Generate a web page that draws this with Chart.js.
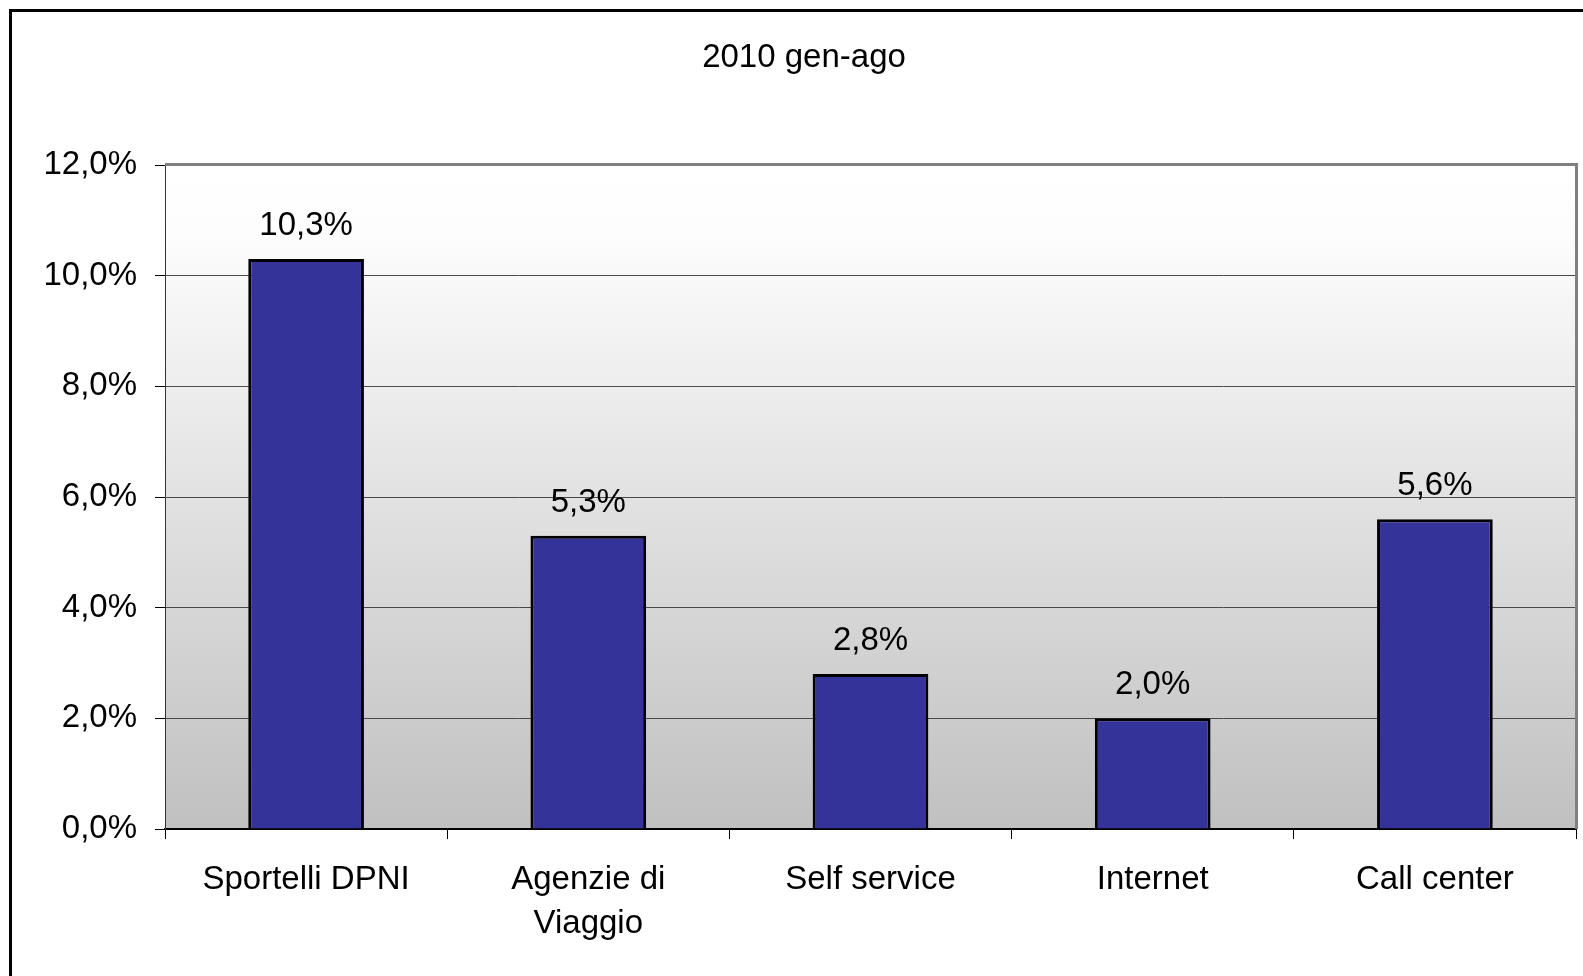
<!DOCTYPE html>
<html>
<head>
<meta charset="utf-8">
<script src="https://cdn.jsdelivr.net/npm/chart.js@4/dist/chart.umd.min.js"></script>
<style>
  html, body { margin: 0; padding: 0; background: #ffffff; overflow: hidden; }
  #wrap { position: relative; width: 1583px; height: 976px; }
  #frame { position: absolute; left: 9px; top: 9px; width: 1700px; height: 1100px;
           border-left: 3px solid #000; border-top: 3px solid #000; pointer-events: none; }
  canvas { position: absolute; left: 0; top: 0; }
</style>
</head>
<body>
<div id="wrap">
  <canvas id="c" width="1583" height="976"></canvas>
  <div id="frame"></div>
</div>
<script>
const chartTitle = '2010 gen-ago';
const categories = ['Sportelli DPNI', ['Agenzie di', 'Viaggio'], 'Self service', 'Internet', 'Call center'];
const values = [10.3, 5.3, 2.8, 2.0, 5.6];
const yTicks = [0, 2, 4, 6, 8, 10, 12];

const FONT = '"Liberation Sans", Arial, sans-serif';
const fmt = v => v.toFixed(1).replace('.', ',') + '%';

const bgPlugin = {
  id: 'bgPlugin',
  beforeDraw(chart) {
    const { ctx, chartArea: a } = chart;
    const g = ctx.createLinearGradient(0, a.top, 0, a.bottom);
    g.addColorStop(0, '#ffffff');
    g.addColorStop(0.1, '#fdfdfd');
    g.addColorStop(1, '#c0c0c0');
    ctx.save();
    ctx.fillStyle = g;
    ctx.fillRect(a.left, a.top, a.right - a.left, a.bottom - a.top);
    ctx.restore();
  },
  afterDraw(chart) {
    const { ctx, chartArea: a } = chart;
    ctx.save();
    ctx.fillStyle = '#000';
    ctx.font = '33px ' + FONT;
    ctx.textAlign = 'center';
    ctx.textBaseline = 'alphabetic';
    ctx.fillText(chartTitle, 804, 67);
    ctx.strokeStyle = '#808080';
    ctx.lineWidth = 3;
    ctx.beginPath();
    ctx.moveTo(a.left, a.top - 0.5);
    ctx.lineTo(a.right + 0.5, a.top - 0.5);
    ctx.lineTo(a.right + 0.5, a.bottom);
    ctx.stroke();
    ctx.restore();
  },
  afterDatasetsDraw(chart) {
    const { ctx } = chart;
    const meta = chart.getDatasetMeta(0);
    ctx.save();
    ctx.fillStyle = '#000';
    ctx.font = '33px ' + FONT;
    ctx.textAlign = 'center';
    ctx.textBaseline = 'alphabetic';
    meta.data.forEach((bar, i) => {
      ctx.fillText(fmt(values[i]), bar.x, bar.y - 24);
    });
    ctx.restore();
  }
};

new Chart(document.getElementById('c'), {
  type: 'bar',
  data: {
    labels: categories,
    datasets: [{
      data: values,
      backgroundColor: '#333399',
      borderColor: '#000000',
      borderWidth: 3,
      borderSkipped: 'bottom',
      categoryPercentage: 1.0,
      barPercentage: 0.41
    }]
  },
  options: {
    responsive: false,
    animation: false,
    devicePixelRatio: 1,
    layout: { padding: { top: 165, right: 7, left: 0, bottom: 0 } },
    plugins: { legend: { display: false }, title: { display: false }, tooltip: { enabled: false } },
    scales: {
      x: {
        offset: true,
        grid: { offset: true, drawOnChartArea: false, tickLength: 10, tickColor: '#000', lineWidth: 1 },
        border: { color: '#000', width: 2 },
        ticks: { color: '#000', font: { family: FONT, size: 33, lineHeight: 1.36 }, padding: 18, maxRotation: 0, autoSkip: false },
        afterFit(s) { s.height = 147; }
      },
      y: {
        min: 0, max: 12,
        afterBuildTicks(s) { s.ticks = yTicks.map(v => ({ value: v })); },
        grid: { color: '#4a4a4a', lineWidth: 1, tickLength: 10, tickColor: '#000' },
        border: { color: '#333', width: 1 },
        ticks: { color: '#000', font: { family: FONT, size: 33 }, padding: 18, callback: v => fmt(v) },
        afterFit(s) { s.width = 165; }
      }
    }
  },
  plugins: [bgPlugin]
});
</script>
</body>
</html>
